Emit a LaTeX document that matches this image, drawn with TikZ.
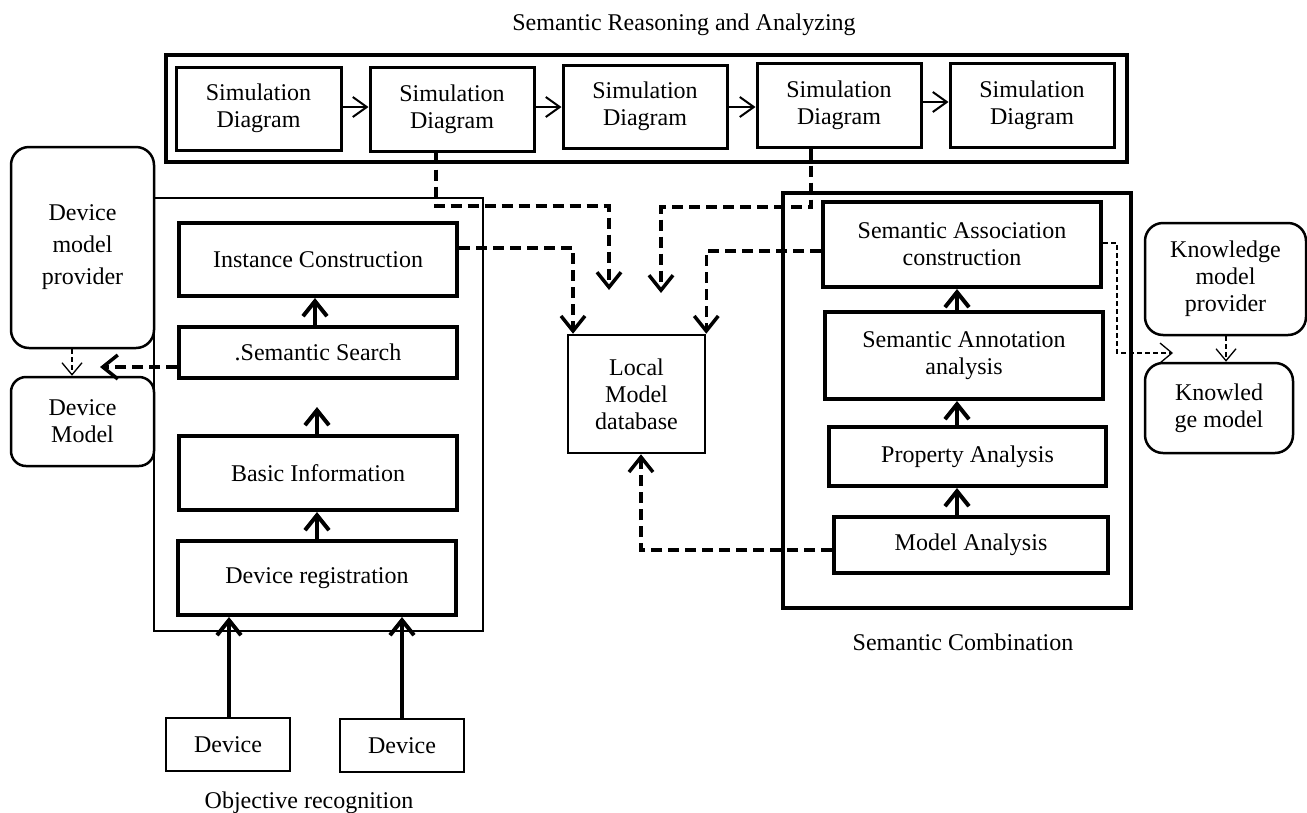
\documentclass[tikz,border=0pt]{standalone}
\usepackage{fontspec}
\setmainfont{Liberation Serif}
\usetikzlibrary{arrows.meta,calc}
\begin{document}
\begin{tikzpicture}[x=1pt,y=-1pt,
  every node/.style={font=\fontsize{24}{27}\selectfont, align=center, inner sep=0pt},
  simbox/.style={draw, line width=3pt, minimum width=164pt, minimum height=83pt},
  blk/.style={draw, line width=4pt, fill=white},
  rbox/.style={draw, line width=2.5pt, rounded corners=18pt, fill=white},
  dev/.style={draw, line width=2.5pt, minimum width=124pt, minimum height=53pt},
  simarrow/.style={line width=2pt, -{Straight Barb[length=14pt,width=20pt]}},
  uparrow/.style={line width=4pt, -{Straight Barb[length=15pt,width=24pt]}},
  dasharrow/.style={line width=3.5pt, dash pattern=on 11pt off 6pt, -{Straight Barb[length=15pt,width=24pt]}},
  thindash/.style={line width=1.3pt, dash pattern=on 5pt off 3pt, -{Straight Barb[length=12pt,width=20pt]}},
]
\useasboundingbox (0,0) rectangle (1307,812);

% ---------- group frames ----------
\draw[line width=4pt] (166,55) rectangle (1127,162);
\draw[line width=2pt] (154,198) rectangle (483,631);
\draw[line width=3.5pt] (783,193) rectangle (1131,608);

\node[anchor=base] (title) at (684,30) {Semantic Reasoning and Analyzing};
\node[anchor=base] (sclab) at (963,650) {Semantic Combination};
\node[anchor=base] (orlab) at (309,808) {Objective recognition};

% ---------- simulation row ----------
\node[simbox, minimum width=165pt] (S1) at (258.5,108.5) {Simulation\\Diagram};
\node[simbox, minimum height=84pt] (S2) at (452,109) {Simulation\\Diagram};
\node[simbox] (S3) at (645,106.5) {Simulation\\Diagram};
\node[simbox, minimum height=84pt] (S4) at (839,105) {Simulation\\Diagram};
\node[simbox, minimum height=84pt] (S5) at (1032,105) {Simulation\\Diagram};

\draw[simarrow] (S1.east |- 0,107) -- (S2.west |- 0,107);
\draw[simarrow] (S2.east |- 0,107) -- (S3.west |- 0,107);
\draw[simarrow] (S3.east |- 0,107) -- (S4.west |- 0,107);
\draw[simarrow] (S4.east |- 0,102) -- (S5.west |- 0,102);

% ---------- objective recognition ----------
\node[rbox, minimum width=143pt, minimum height=201pt, font=\fontsize{24}{32}\selectfont] (DMP) at (82.5,247.5) {Device\\model\\provider};
\node[rbox, rounded corners=15pt, minimum width=143pt, minimum height=89pt] (DM) at (82.5,421.5) {Device\\Model};

\node[blk, minimum width=278pt, minimum height=73pt] (IC) at (318,259.5) {Instance Construction};
\node[blk, minimum width=278pt, minimum height=51pt] (SS) at (318,352.5) {.Semantic Search};
\node[blk, minimum width=278pt, minimum height=74pt] (BI) at (318,473) {Basic Information};
\node[blk, minimum width=278pt, minimum height=74pt] (DR) at (317,578) {Device registration};

\node[dev] (D1) at (228,744.5) {Device};
\node[dev] (D2) at (402,745.5) {Device};

\coordinate (bitip) at (317,407);
\coordinate (dmtip) at (100,367);

\draw[uparrow] (SS.north -| 315,0) -- (IC.south -| 315,0);
\draw[uparrow] (BI.north -| 317,0) -- (bitip);
\draw[uparrow] (DR.north -| 317,0) -- (BI.south -| 317,0);
\draw[uparrow] (D1.north -| 229,0) -- (DR.south -| 229,0);
\draw[uparrow] (D2.north) -- (DR.south -| D2.north);

\draw[thindash] (DMP.south -| 72,0) -- (DM.north -| 72,0);
\draw[dasharrow] (SS.west |- dmtip) -- (dmtip);

% ---------- local model ----------
\node[draw, line width=2.5pt, fill=white, minimum width=137pt, minimum height=118pt] (LM) at (636.5,394) {Local\\Model\\database};

\coordinate (t1) at (609,290);
\coordinate (t2) at (661,293);
\draw[dasharrow] (S2.south -| 436,0) |- (t1 |- 0,206) -- (t1);
\draw[dasharrow] (S4.south -| 811,0) |- (t2 |- 0,207) -- (t2);
\draw[dasharrow] (IC.east |- 0,248) -| (LM.north -| 573,0);

% ---------- semantic combination ----------
\node[blk, minimum width=278pt, minimum height=85pt] (SAC) at (962,244.5) {Semantic Association\\construction};
\node[blk, minimum width=278pt, minimum height=87pt] (SAN) at (964,355.5) {Semantic Annotation\\analysis};
\node[blk, minimum width=277pt, minimum height=59pt] (PA) at (967.5,456.5) {Property Analysis};
\node[blk, minimum width=274pt, minimum height=56pt] (MA) at (971,545) {Model Analysis};

\draw[uparrow] (SAN.north -| 957,0) -- (SAC.south -| 957,0);
\draw[uparrow] (PA.north -| 957,0) -- (SAN.south -| 957,0);
\draw[uparrow] (MA.north -| 957,0) -- (PA.south -| 957,0);

\draw[dasharrow] (SAC.west |- 0,251) -| (LM.north east);
\draw[dasharrow] (MA.west |- 0,550) -| (LM.south -| 641,0);

% ---------- knowledge ----------
\node[rbox, minimum width=161pt, minimum height=112pt] (KMP) at (1225.5,279) {Knowledge\\model\\provider};
\node[rbox, minimum width=148pt, minimum height=90pt] (KM) at (1219,408) {Knowled\\ge model};

\coordinate (t3) at (1173,353);
\draw[thindash] (KMP.south -| 1226,0) -- (KM.north -| 1226,0);
\draw[thindash] (SAC.east |- 0,243) -- (1117,243) |- (t3);

\end{tikzpicture}
\end{document}
